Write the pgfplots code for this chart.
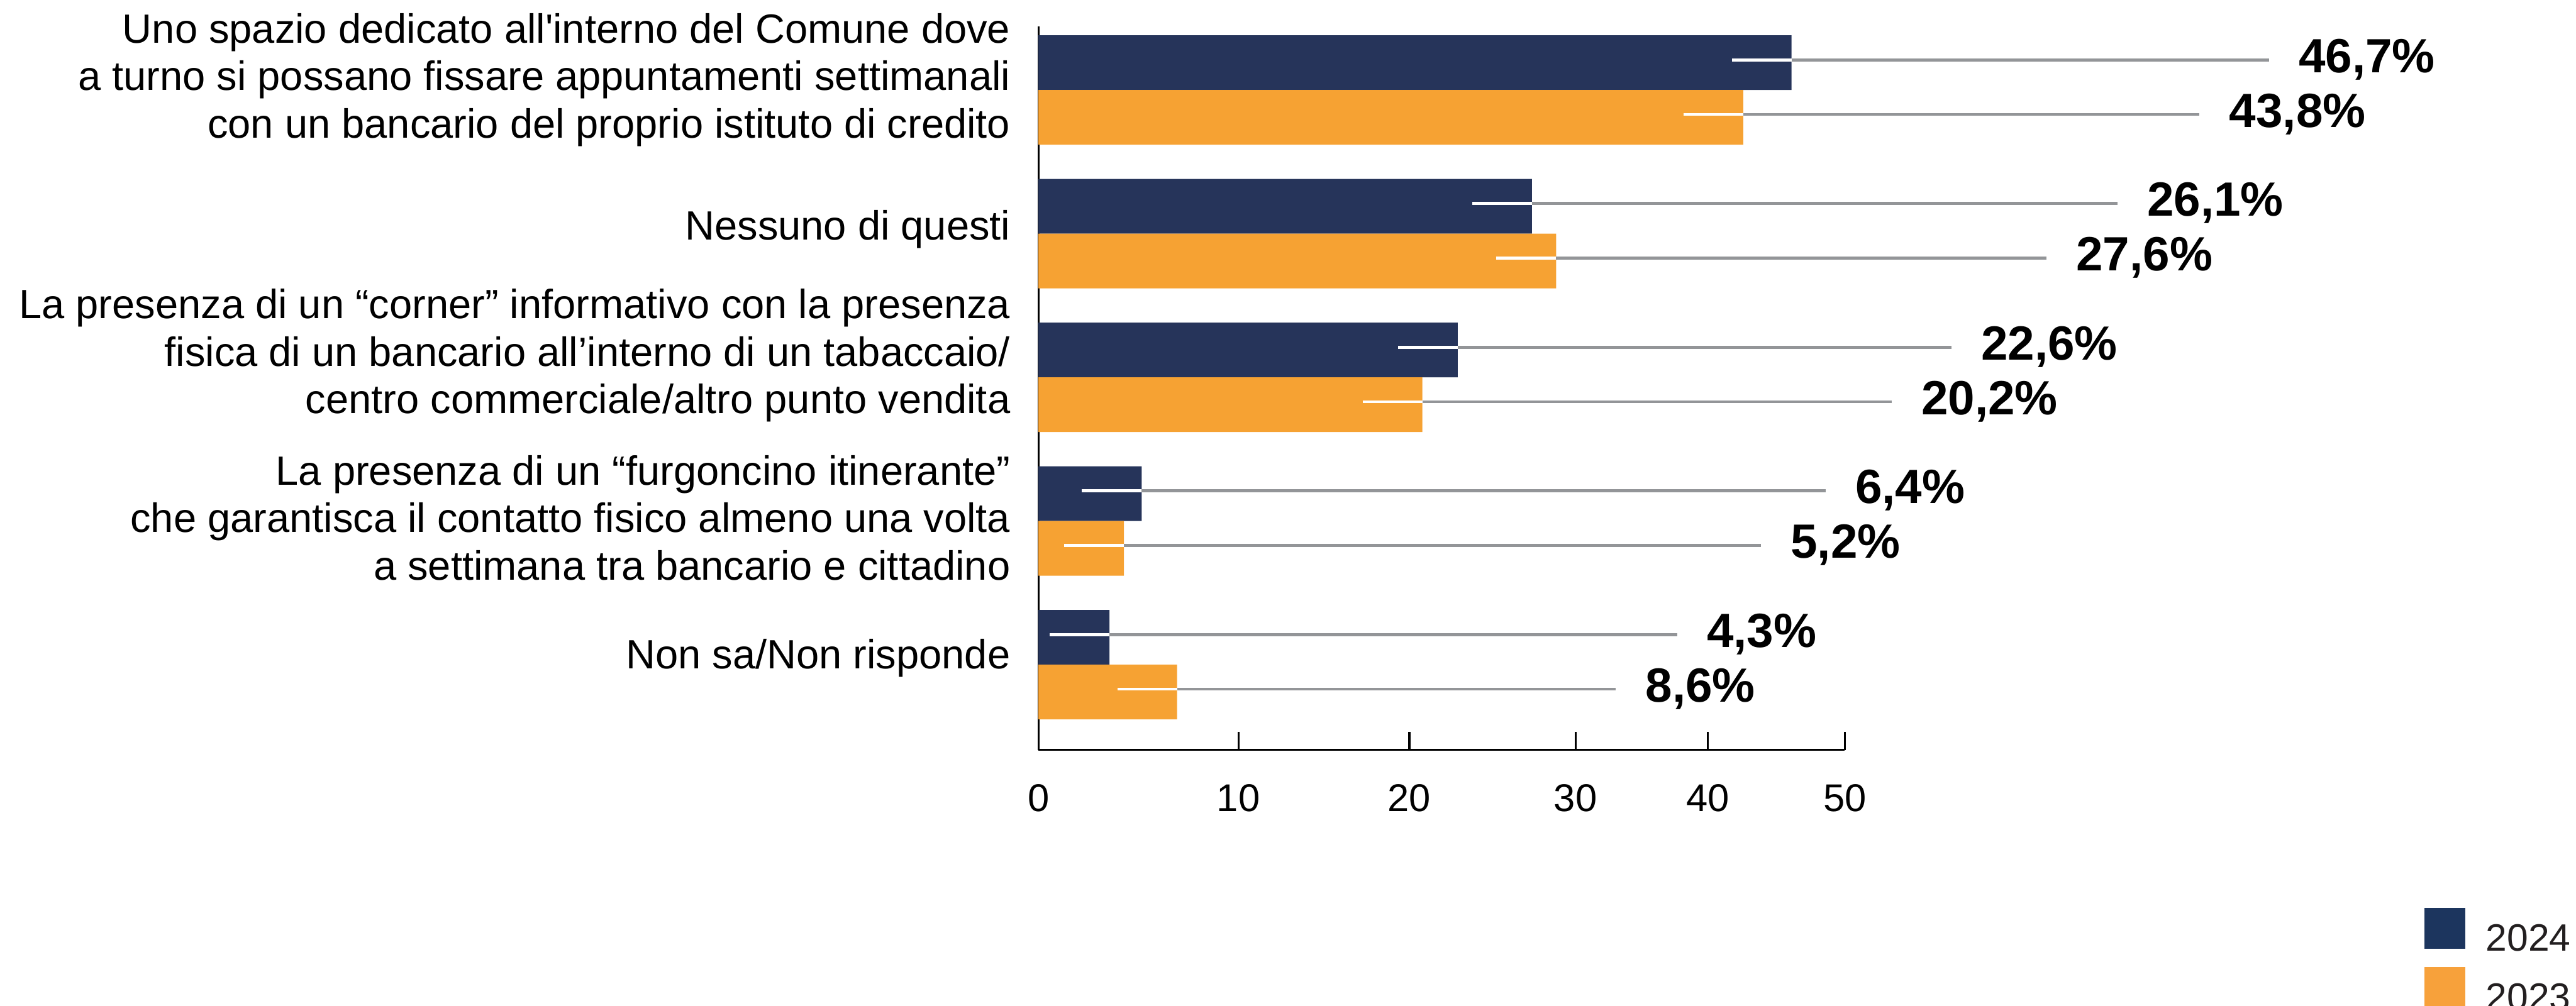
\documentclass[border=0pt]{standalone}
\usepackage{fontspec}
\setmainfont{Liberation Sans}
\usepackage{pgfplots}
\pgfplotsset{compat=1.18}
\usepackage{pgfplotstable}
\definecolor{navy}{HTML}{26345A}
\definecolor{orng}{HTML}{F6A233}
\definecolor{legnavy}{HTML}{1C355E}
\definecolor{legorng}{HTML}{F7A13B}
\definecolor{lgray}{HTML}{939598}
\definecolor{txtgray}{HTML}{231F20}
\newcommand{\sq}{{\addfontfeature{Ligatures=TeXOff}'}}

\pgfplotstableread{
y bar
4 46.7
3 30.6
2 26.0
1 6.4
0 4.4
}\navytab
\pgfplotstableread{
y bar
4 43.7
3 32.1
2 23.8
1 5.3
0 8.6
}\orngtab
\pgfplotstableread{
x y label
76.3 4.21 46,7\%
66.9 3.21 26,1\%
56.6 2.21 22,6\%
48.8 1.21 6,4\%
39.6 0.21 4,3\%
72.0 3.83 43,8\%
62.5 2.83 27,6\%
52.9 1.83 20,2\%
44.8 0.83 5,2\%
35.8 -0.17 8,6\%
}\labtab

\begin{document}
\begin{tikzpicture}
\begin{axis}[
  name=ax, scale only axis, width=145.9pt, height=130.9pt,
  xmin=0, xmax=50, ymin=-0.592, ymax=4.442,
  clip=false,
  axis x line=bottom, axis y line=left,
  axis line style={-, black, line width=0.35pt},
  xtick={0,12.4,23.0,33.3,41.5,50}, xticklabels={0,10,20,30,40,50},
  tick align=inside, major tick length=3.3pt,
  x tick style={black, line width=0.35pt},
  ytick={0,1,2,3,4}, y tick style={draw=none},
  /pgf/number format/assume math mode=true,
  xticklabel style={inner sep=0pt, yshift=-6.1pt, font=\fontsize{7}{8}\selectfont},
  yticklabel style={inner sep=0pt, xshift=-4.9pt, font=\fontsize{7.4}{8.6}\selectfont},
  yticklabels={
    {\raisebox{-0.78pt}[0pt][0pt]{\begin{tabular}{@{}r@{}}Non sa/Non risponde\end{tabular}}},
    {\raisebox{-2.08pt}[0pt][0pt]{\begin{tabular}{@{}r@{}}La presenza di un “furgoncino itinerante”\\che garantisca il contatto fisico almeno una volta\\a settimana tra bancario e cittadino\end{tabular}}},
    {\raisebox{2.02pt}[0pt][0pt]{\begin{tabular}{@{}r@{}}La presenza di un “corner” informativo con la presenza\\fisica di un bancario all’interno di un tabaccaio/\\centro commerciale/altro punto vendita\end{tabular}}},
    {\raisebox{-1.18pt}[0pt][0pt]{\begin{tabular}{@{}r@{}}Nessuno di questi\end{tabular}}},
    {\raisebox{-0.08pt}[0pt][0pt]{\begin{tabular}{@{}r@{}}Uno spazio dedicato all\sq interno del Comune dove\\a turno si possano fissare appuntamenti settimanali\\con un bancario del proprio istituto di credito\end{tabular}}}
  },
  legend style={at={(axis description cs:1.719,-0.2185)}, anchor=north west,
    draw=none, fill=none, inner sep=0pt, outer sep=0pt,
    row sep=1.3pt, column sep=3.7pt,
    font=\fontsize{6.9}{8}\selectfont, text=txtgray,
    nodes={inner sep=0pt}},
  legend cell align=left,
  legend image code/.code={\fill[#1,draw=none] (0pt,-1.2pt) rectangle (7.4pt,6.2pt);},
]
\addlegendimage{fill=legnavy, draw=none}
\addlegendentry{2024}
\addlegendimage{fill=legorng, draw=none}
\addlegendentry{2023}
\addplot[xbar, bar width=9.9pt, bar shift=4.95pt, fill=navy, draw=none, forget plot] table[x=bar, y=y] {\navytab};
\addplot[xbar, bar width=9.9pt, bar shift=-4.95pt, fill=orng, draw=none, forget plot] table[x=bar, y=y] {\orngtab};

\addplot[white, line width=0.55pt, unbounded coords=jump, forget plot] coordinates {
  (43.0,4.21) (46.7,4.21) (0,nan)
  (26.9,3.21) (30.6,3.21) (0,nan)
  (22.3,2.21) (26.0,2.21) (0,nan)
  (2.7,1.21) (6.4,1.21) (0,nan)
  (0.7,0.21) (4.4,0.21) (0,nan)
  (40.0,3.83) (43.7,3.83) (0,nan)
  (28.4,2.83) (32.1,2.83) (0,nan)
  (20.1,1.83) (23.8,1.83) (0,nan)
  (1.6,0.83) (5.3,0.83) (0,nan)
  (4.9,-0.17) (8.6,-0.17)
};
\addplot[lgray, line width=0.55pt, unbounded coords=jump, forget plot] coordinates {
  (46.7,4.21) (76.3,4.21) (0,nan)
  (30.6,3.21) (66.9,3.21) (0,nan)
  (26.0,2.21) (56.6,2.21) (0,nan)
  (6.4,1.21) (48.8,1.21) (0,nan)
  (4.4,0.21) (39.6,0.21) (0,nan)
  (43.7,3.83) (72.0,3.83) (0,nan)
  (32.1,2.83) (62.5,2.83) (0,nan)
  (23.8,1.83) (52.9,1.83) (0,nan)
  (5.3,0.83) (44.8,0.83) (0,nan)
  (8.6,-0.17) (35.8,-0.17)
};
\addplot[draw=none, mark=none, forget plot, nodes near coords, point meta=explicit symbolic,
  nodes near coords style={anchor=base west, inner sep=0pt, xshift=5.2pt, yshift=-2.3pt,
    font=\fontsize{8.7}{10}\selectfont\bfseries, text=black}]
  table[x=x, y=y, meta=label] {\labtab};
\end{axis}
\pgfresetboundingbox
\path[use as bounding box] ([shift={(-187.9pt,-46.3pt)}]ax.south west) rectangle ([shift={(278.2pt,135.7pt)}]ax.south west);
\end{tikzpicture}
\end{document}
